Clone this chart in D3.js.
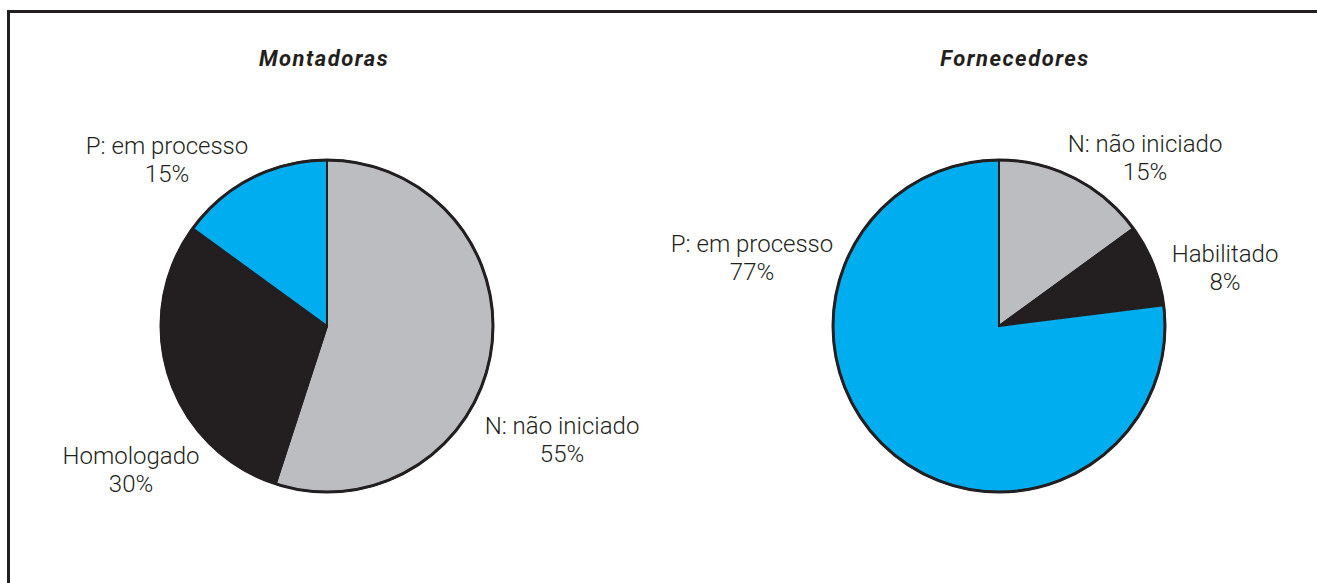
<!DOCTYPE html>
<html lang="en">
  <head>
    <meta charset="UTF-8" />
    <script src="https://d3js.org/d3.v7.min.js"></script>
    <style>
      body { margin: 0; background: #fff; }
      .label { font-family: Roboto, sans-serif; font-size: 24px; font-weight: 300; fill: #231f20; }
      .title { font-family: Roboto, sans-serif; font-size: 22px; font-weight: bold; font-style: italic; letter-spacing: 1.5px; fill: #231f20; }
    </style>
    <title>Pies</title>
  </head>
  <body>
    <svg id="chart" width="1317" height="583"></svg>
    <script>
      // data
      const titles = ["Montadoras", "Fornecedores"];
      const montLabels = ["N: não iniciado", "Homologado", "P: em processo"];
      const montValues = [55, 30, 15];
      const fornLabels = ["N: não iniciado", "Habilitado", "P: em processo"];
      const fornValues = [15, 8, 77];

      const colors = d3.scaleOrdinal()
        .domain(["N: não iniciado", "Homologado", "Habilitado", "P: em processo"])
        .range(["#bcbdc0", "#231f20", "#231f20", "#00adee"]);

      // layout (label anchors relative to pie center)
      const charts = [
        { labels: montLabels, values: montValues, cx: 327, cy: 326,
          titleX: 324, offsets: [[235, 108], [-196, 138], [-160, -172]] },
        { labels: fornLabels, values: fornValues, cx: 999, cy: 326,
          titleX: 1015, offsets: [[146, -174], [226, -64], [-247, -74]] }
      ];
      const radius = 166;

      const svg = d3.select("#chart");

      // frame
      svg.append("rect")
        .attr("x", 8.5).attr("y", 11.5)
        .attr("width", 1340).attr("height", 600)
        .attr("fill", "none")
        .attr("stroke", "#231f20")
        .attr("stroke-width", 3);

      const pie = d3.pie().sort(null).value(d => d.v);
      const arc = d3.arc().innerRadius(0).outerRadius(radius);

      charts.forEach((c, ci) => {
        const g = svg.append("g").attr("transform", `translate(${c.cx},${c.cy})`);
        const rows = c.labels.map((l, i) => ({ label: l, v: c.values[i] }));

        g.selectAll("path.slice")
          .data(pie(rows))
          .join("path")
          .attr("class", "slice")
          .attr("d", arc)
          .attr("fill", d => colors(d.data.label))
          .attr("stroke", "#231f20")
          .attr("stroke-width", 2);

        g.append("circle")
          .attr("r", radius)
          .attr("fill", "none")
          .attr("stroke", "#231f20")
          .attr("stroke-width", 3);

        const lab = g.selectAll("text.label")
          .data(rows)
          .join("text")
          .attr("class", "label")
          .attr("text-anchor", "middle")
          .attr("transform", (d, i) => `translate(${c.offsets[i][0]},${c.offsets[i][1]})`);
        lab.append("tspan").attr("x", 0).attr("y", 0).text(d => d.label);
        lab.append("tspan").attr("x", 0).attr("y", 28).text(d => d.v + "%");

        svg.append("text")
          .attr("class", "title")
          .attr("x", c.titleX)
          .attr("y", 66)
          .attr("text-anchor", "middle")
          .text(titles[ci]);
      });
    </script>
  </body>
</html>
